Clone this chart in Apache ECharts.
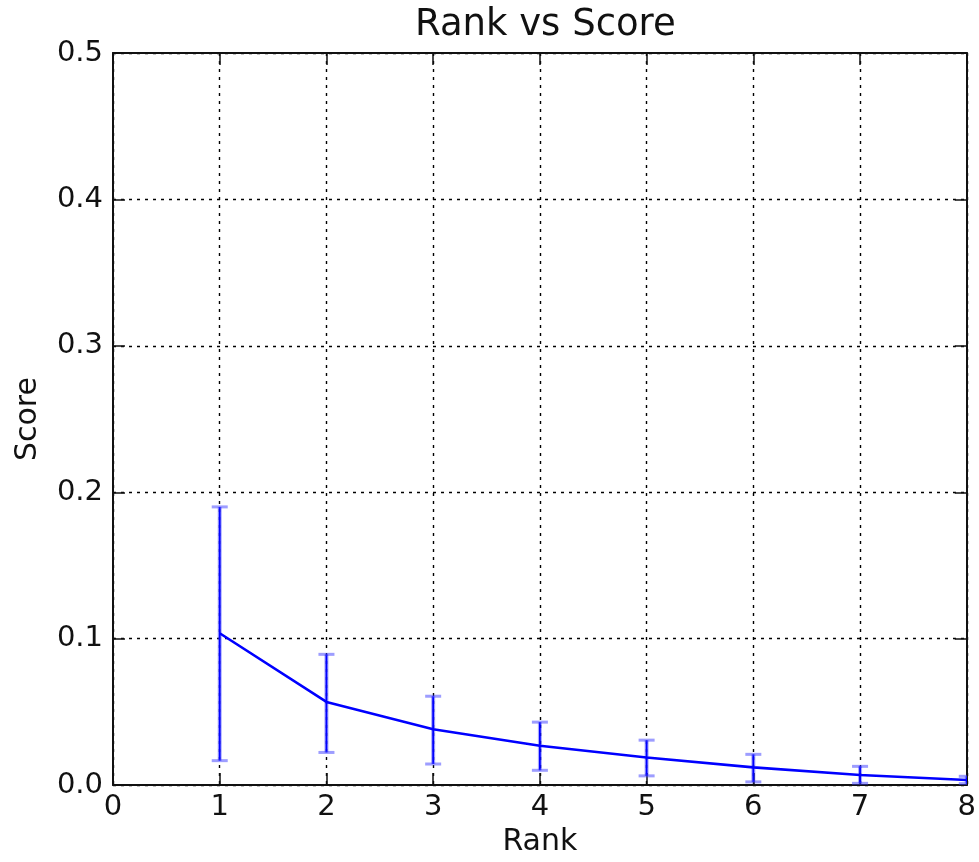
<!DOCTYPE html>
<html>
<head>
<meta charset="utf-8">
<script src="https://cdn.jsdelivr.net/npm/echarts@6/dist/echarts.min.js"></script>
<style>
html,body{margin:0;padding:0;background:#fff;}
#chart{width:979px;height:862px;}
</style>
</head>
<body>
<div id="chart"></div>
<script>
const ranks = [1, 2, 3, 4, 5, 6, 7, 8];
const means = [0.1037, 0.0568, 0.0382, 0.0269, 0.0189, 0.0121, 0.0069, 0.0035];
const upper = [0.190, 0.0893, 0.0607, 0.0430, 0.0307, 0.0210, 0.0128, 0.0060];
const lower = [0.0167, 0.0223, 0.0144, 0.0101, 0.0063, 0.0022, 0.0012, 0.0010];
const title = 'Rank vs Score';
const xName = 'Rank';
const yName = 'Score';

const FONT = 'DejaVu Sans';
const chart = echarts.init(document.getElementById('chart'), null, {renderer: 'canvas'});

const errData = ranks.map((r, i) => [r, lower[i], upper[i]]);
const lineData = ranks.map((r, i) => [r, means[i]]);

const dotted = {show: true, lineStyle: {color: '#000', width: 1.4, type: [3, 5]}};
const frameLine = {show: true, onZero: false, lineStyle: {color: '#111', width: 2}};
const tickIn = {show: true, inside: true, length: 12, lineStyle: {color: '#111', width: 1.5}};

const option = {
  animation: false,
  backgroundColor: '#fff',
  title: {
    text: title, left: 410, top: 2,
    textStyle: {fontFamily: FONT, fontSize: 37, fontWeight: 'normal', color: '#111'}
  },
  grid: {left: 113, right: 9, top: 53, bottom: 74, containLabel: false},
  xAxis: [{
    type: 'value', min: 0, max: 8, interval: 1, position: 'bottom',
    axisLine: frameLine, axisTick: tickIn, splitLine: dotted,
    axisLabel: {fontFamily: FONT, fontSize: 29, color: '#111', margin: 8},
    name: xName, nameLocation: 'middle', nameGap: 40,
    nameTextStyle: {fontFamily: FONT, fontSize: 30, color: '#111'}
  }, {
    type: 'value', min: 0, max: 8, interval: 1, position: 'top',
    axisLine: frameLine, axisTick: tickIn, splitLine: {show: false},
    axisLabel: {show: false}
  }],
  yAxis: [{
    type: 'value', min: 0, max: 0.5, interval: 0.1, position: 'left',
    axisLine: frameLine, axisTick: tickIn, splitLine: dotted,
    axisLabel: {fontFamily: FONT, fontSize: 29, color: '#111', margin: 10,
      formatter: v => v.toFixed(1)},
    name: yName, nameLocation: 'middle', nameGap: 70, nameRotate: 90,
    nameTextStyle: {fontFamily: FONT, fontSize: 30, color: '#111'}
  }, {
    type: 'value', min: 0, max: 0.5, interval: 0.1, position: 'right',
    axisLine: frameLine, axisTick: tickIn, splitLine: {show: false},
    axisLabel: {show: false}
  }],
  series: [{
    type: 'custom',
    xAxisIndex: 0, yAxisIndex: 0,
    clip: true,
    z: 3,
    data: errData,
    renderItem: function (params, api) {
      const x = api.value(0);
      const lo = api.coord([x, api.value(1)]);
      const hi = api.coord([x, api.value(2)]);
      const hw = 8;
      return {
        type: 'group',
        children: [
          {type: 'line', shape: {x1: lo[0], y1: lo[1], x2: hi[0], y2: hi[1]},
            style: {stroke: 'rgba(60,60,255,0.45)', lineWidth: 4}},
          {type: 'line', shape: {x1: lo[0], y1: lo[1], x2: hi[0], y2: hi[1]},
            style: {stroke: '#0000ff', lineWidth: 1.8}},
          {type: 'line', shape: {x1: lo[0] - hw, y1: lo[1], x2: lo[0] + hw, y2: lo[1]},
            style: {stroke: 'rgba(60,60,255,0.5)', lineWidth: 3}},
          {type: 'line', shape: {x1: hi[0] - hw, y1: hi[1], x2: hi[0] + hw, y2: hi[1]},
            style: {stroke: 'rgba(60,60,255,0.5)', lineWidth: 3}}
        ]
      };
    }
  }, {
    type: 'line',
    xAxisIndex: 0, yAxisIndex: 0,
    data: lineData,
    showSymbol: false,
    symbol: 'none',
    z: 4,
    lineStyle: {color: '#0000ff', width: 2.6},
    itemStyle: {color: '#0000ff'}
  }]
};
chart.setOption(option);
</script>
</body>
</html>
